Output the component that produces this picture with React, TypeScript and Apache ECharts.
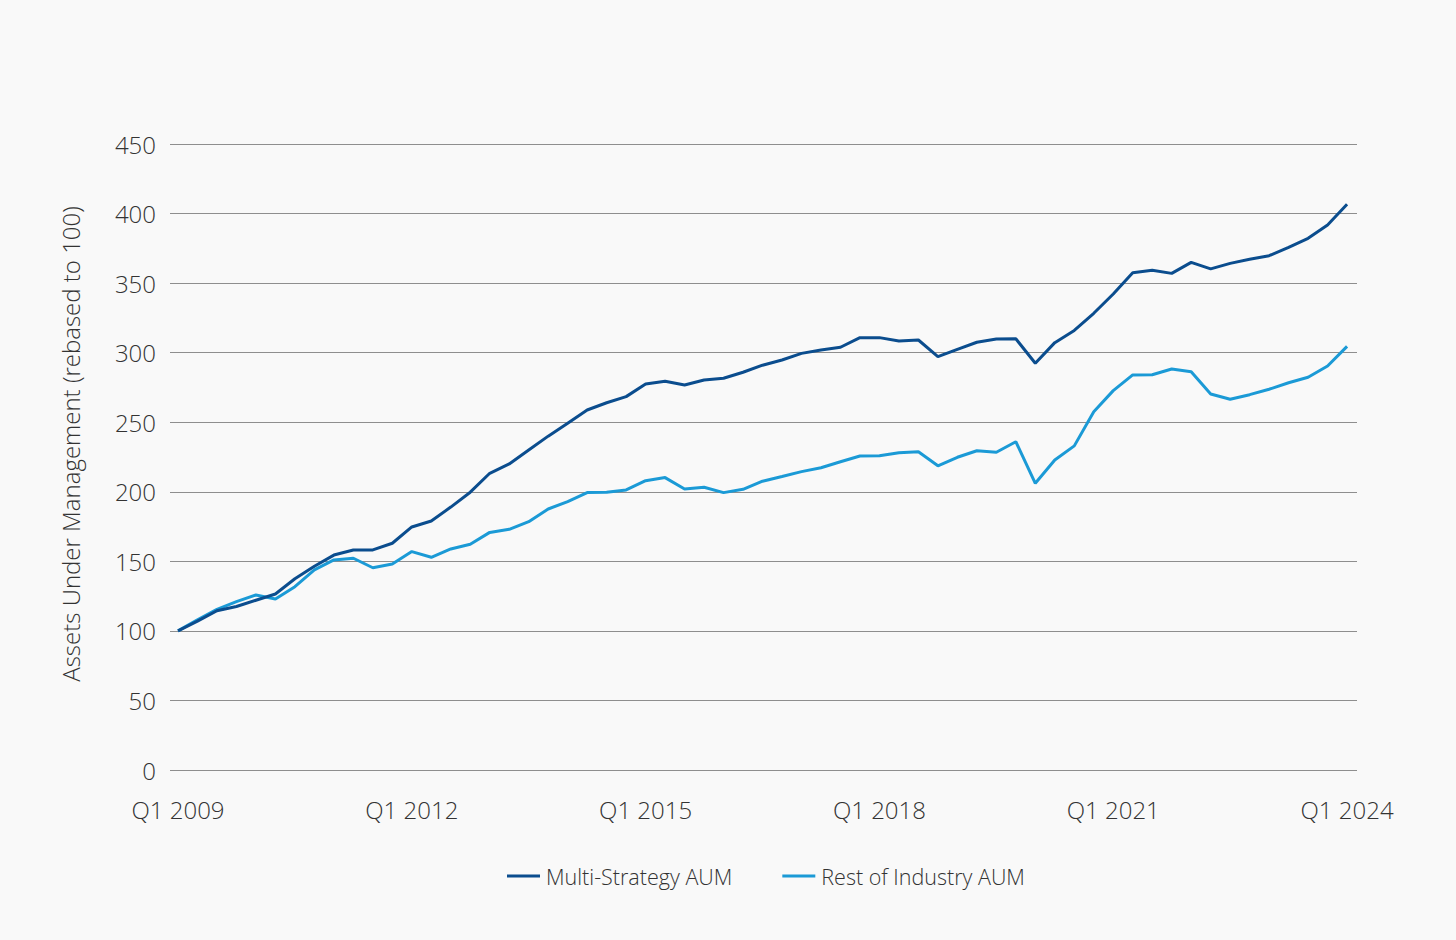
import React, { useEffect, useRef } from "react";
import * as echarts from "echarts";

const seriesNames = ["Multi-Strategy AUM", "Rest of Industry AUM"];

// Quarterly values, Q1 2009 .. Q1 2024 (61 quarters), rebased to 100
const multiStrategy = [
  100, 107, 114.5, 117.5, 122, 126.5, 137.5, 146.5, 154.5, 158.2, 158.2, 163,
  174.7, 179, 189, 199.7, 213.3, 220, 230, 240, 249.2, 258.8, 264, 268.4,
  277.5, 279.4, 276.8, 280.4, 281.6, 285.9, 291, 294.7, 299.5, 301.9, 303.9, 310.8,
  310.8, 308.4, 309.1, 297.1, 302.4, 307.5, 309.8, 310, 292.4, 307.2, 316, 328.3,
  342.2, 357.5, 359.2, 357, 364.9, 360.2, 364.2, 367.1, 369.7, 375.7, 382.2, 391.8,
  406.7,
];

const restOfIndustry = [
  100, 108, 115.5, 121, 125.8, 122.9, 131.8, 143.8, 151, 152.2, 145.4, 148.1,
  157, 152.9, 158.9, 162.3, 170.8, 173, 178.5, 187.6, 192.9, 199.4, 199.6, 201.3,
  208, 210.2, 202, 203.3, 199.4, 201.8, 207.6, 211, 214.5, 217.3, 221.6, 225.7,
  225.9, 228.1, 228.8, 218.7, 224.8, 229.5, 228.4, 236, 206.1, 222.9, 233, 257.6,
  272.7, 284, 284.1, 288.3, 286.3, 270.3, 266.5, 269.8, 273.7, 278.4, 282.3, 290.4,
  304.5,
];

// x tick positions (quarter index) and their labels
const xTickIndex = [0, 12, 24, 36, 48, 60];
const xTickLabels = ["Q1 2009", "Q1 2012", "Q1 2015", "Q1 2018", "Q1 2021", "Q1 2024"];

const yTicks = [0, 50, 100, 150, 200, 250, 300, 350, 400, 450];

const FONT = "'Open Sans', 'Noto Sans', sans-serif";

export default function App() {
  const ref = useRef<HTMLDivElement>(null);

  useEffect(() => {
    if (!ref.current) return;
    const chart = echarts.init(ref.current, undefined, { renderer: "svg" });
    const colors = ["#0b4d8e", "#1b9ad6"];
    chart.setOption({
      animation: false,
      backgroundColor: "#f9f9f9",
      textStyle: { fontFamily: FONT, fontWeight: 300 },
      grid: { left: 170, right: 99, top: 144, bottom: 170, containLabel: false },
      legend: {
        left: 502,
        top: 860,
        itemWidth: 33,
        itemHeight: 14,
        itemGap: 50,
        icon: "path://M0,6 L33,6 L33,9 L0,9 Z",
        textStyle: { fontSize: 21.5, color: "#333", fontFamily: FONT, fontWeight: 300, padding: [0, 0, 0, 1] },
        data: seriesNames,
      },
      xAxis: {
        type: "value",
        min: -0.41,
        max: 60.51,
        axisLine: { show: false },
        axisTick: { show: false },
        splitLine: { show: false },
        axisLabel: {
          customValues: xTickIndex,
          formatter: (v: number) => {
            const k = xTickIndex.indexOf(Math.round(v));
            return k >= 0 ? xTickLabels[k] : "";
          },
          fontSize: 24,
          color: "#333",
          fontFamily: FONT,
          fontWeight: 300,
          margin: 27,
        },
      },
      yAxis: {
        type: "value",
        min: yTicks[0],
        max: yTicks[yTicks.length - 1],
        interval: 50,
        name: "Assets Under Management (rebased to 100)",
        nameLocation: "middle",
        nameGap: 88,
        nameTextStyle: {
          fontSize: 24,
          color: "#333",
          fontFamily: FONT,
          fontWeight: 300,
          padding: [0, 0, 0, 26],
        },
        axisLine: { show: false },
        axisTick: { show: false },
        axisLabel: { fontSize: 24, color: "#333", fontFamily: FONT, fontWeight: 300, margin: 14 },
        splitLine: { lineStyle: { color: "#8e8e8e", width: 1 } },
      },
      series: [
        {
          name: seriesNames[0],
          type: "line",
          symbol: "none",
          data: multiStrategy.map((v, i) => [i, v]),
          lineStyle: { color: colors[0], width: 3 },
          itemStyle: { color: colors[0] },
          z: 3,
        },
        {
          name: seriesNames[1],
          type: "line",
          symbol: "none",
          data: restOfIndustry.map((v, i) => [i, v]),
          lineStyle: { color: colors[1], width: 3 },
          itemStyle: { color: colors[1] },
          z: 2,
        },
      ],
    });
    return () => chart.dispose();
  }, []);

  return (
    <div
      ref={ref}
      style={{ position: "fixed", left: 0, top: 0, width: 1456, height: 940, background: "#f9f9f9" }}
    />
  );
}
